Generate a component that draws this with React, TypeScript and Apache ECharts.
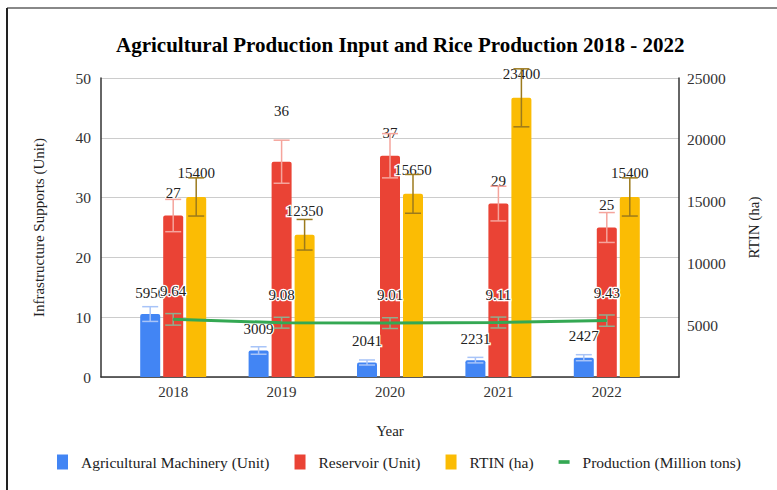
import React, { useEffect, useRef } from "react";
import * as echarts from "echarts";

const years = ["2018", "2019", "2020", "2021", "2022"];
const machinery = [5950, 3009, 2041, 2231, 2427];
const reservoir = [27, 36, 37, 29, 25];
const rtin = [15400, 12350, 15650, 23400, 15400];
const production = [9.64, 9.08, 9.01, 9.11, 9.43];

const leftMin = 0;
const leftMax = 50;
const leftInterval = 10;
const rightMin = 870;
const rightMax = 25000;
const errorPct = 0.1;

const FONT = "'Liberation Serif', 'Times New Roman', serif";
const BLUE = "#4285f4";
const RED = "#ea4335";
const YELLOW = "#fbbc04";
const GREEN = "#34a853";

function errorSeries(name: string, values: number[], yAxisIndex: number, offset: number, color: string) {
  return {
    type: "custom",
    name,
    xAxisIndex: 1,
    yAxisIndex,
    z: 4,
    silent: true,
    data: values.map((v, i) => [i, v]),
    renderItem: (params: any, api: any) => {
      const x = api.value(0);
      const v = api.value(1);
      const e = v * errorPct;
      const top = api.coord([x, v + e]);
      const bot = api.coord([x, v - e]);
      const cx = top[0] + offset;
      const hw = 8;
      const style = { stroke: color, lineWidth: 1.5 };
      return {
        type: "group",
        children: [
          { type: "line", shape: { x1: cx, y1: top[1], x2: cx, y2: bot[1] }, style },
          { type: "line", shape: { x1: cx - hw, y1: top[1], x2: cx + hw, y2: top[1] }, style },
          { type: "line", shape: { x1: cx - hw, y1: bot[1], x2: cx + hw, y2: bot[1] }, style },
        ],
      };
    },
  };
}

const barLabel = {
  show: true,
  position: "top",
  distance: 14,
  fontFamily: FONT,
  fontSize: 15,
  color: "#222",
  textBorderColor: "#fff",
  textBorderWidth: 2.5,
};

export default function App() {
  const ref = useRef<HTMLDivElement>(null);
  useEffect(() => {
    if (!ref.current) return;
    const chart = echarts.init(ref.current, undefined, { renderer: "svg" });
    const gridTop = 78;
    const gridBottom = 113;
    chart.setOption({
      animation: false,
      backgroundColor: "#fff",
      textStyle: { fontFamily: FONT },
      title: {
        text: "Agricultural Production Input and Rice Production 2018 - 2022",
        left: 116,
        top: 34,
        padding: 0,
        textStyle: { fontFamily: FONT, fontSize: 21, fontWeight: "bold", color: "#000" },
      },
      graphic: [
        { type: "line", shape: { x1: 7, y1: 8, x2: 777, y2: 8 }, style: { stroke: "#888", lineWidth: 2 } },
        { type: "line", shape: { x1: 7, y1: 8, x2: 7, y2: 490 }, style: { stroke: "#222", lineWidth: 2 } },
      ],
      legend: {
        bottom: 15,
        left: 52,
        itemGap: 25,
        itemWidth: 11,
        itemHeight: 15,
        textStyle: { fontFamily: FONT, fontSize: 15.5, color: "#222", padding: [0, 0, 0, 8] },
        data: [
          { name: "Agricultural Machinery (Unit)", icon: "rect" },
          { name: "Reservoir (Unit)", icon: "rect" },
          { name: "RTIN (ha)", icon: "rect" },
          { name: "Production (Million tons)", icon: "path://M0,0 L12,0 L12,4 L0,4 Z" },
        ],
      },
      grid: [
        { left: 101, right: 98, top: gridTop, bottom: gridBottom },
        { left: 119, right: 116, top: gridTop, bottom: gridBottom },
      ],
      xAxis: [
        {
          type: "category",
          gridIndex: 0,
          data: years,
          axisLine: { show: true, lineStyle: { color: "#333", width: 1.5 } },
          axisTick: { show: false },
          axisLabel: { show: false },
        },
        {
          type: "category",
          gridIndex: 1,
          data: years,
          axisLine: { show: false },
          axisTick: { show: false },
          axisLabel: { fontFamily: FONT, fontSize: 15, color: "#333", margin: 7 },
          name: "Year",
          nameLocation: "middle",
          nameGap: 46,
          nameTextStyle: { fontFamily: FONT, fontSize: 15, color: "#222" },
        },
      ],
      yAxis: [
        {
          type: "value",
          gridIndex: 0,
          position: "left",
          min: leftMin,
          max: leftMax,
          interval: leftInterval,
          axisLine: { show: true, lineStyle: { color: "#333", width: 1.5 } },
          axisTick: { show: false },
          splitLine: { show: true, lineStyle: { color: "#ccc", width: 1 } },
          axisLabel: { fontFamily: FONT, fontSize: 15.5, color: "#333", margin: 10 },
          name: "Infrastructure Supports (Unit)",
          nameLocation: "middle",
          nameRotate: 90,
          nameGap: 55,
          nameTextStyle: { fontFamily: FONT, fontSize: 15, color: "#222" },
        },
        {
          type: "value",
          gridIndex: 0,
          position: "right",
          min: rightMin,
          max: rightMax,
          splitNumber: 5,
          axisLine: { show: true, lineStyle: { color: "#333", width: 1.5 } },
          axisTick: { show: false },
          splitLine: { show: false },
          axisLabel: {
            fontFamily: FONT,
            fontSize: 15.5,
            color: "#333",
            margin: 8,
            showMinLabel: false,
            formatter: (v: number) => (v % 5000 === 0 ? String(v) : ""),
          },
          name: "RTIN (ha)",
          nameLocation: "middle",
          nameRotate: 90,
          nameGap: 67,
          nameTextStyle: { fontFamily: FONT, fontSize: 15, color: "#222" },
        },
        {
          type: "value",
          gridIndex: 1,
          min: leftMin,
          max: leftMax,
          interval: leftInterval,
          show: false,
          splitLine: { show: false },
        },
        {
          type: "value",
          gridIndex: 1,
          position: "right",
          min: rightMin,
          max: rightMax,
          show: false,
          splitLine: { show: false },
        },
      ],
      series: [
        {
          type: "bar",
          name: "Agricultural Machinery (Unit)",
          xAxisIndex: 1,
          yAxisIndex: 3,
          data: machinery,
          barWidth: 20,
          barGap: "15%",
          itemStyle: { color: BLUE, borderRadius: [2, 2, 0, 0] },
          label: barLabel,
          z: 2,
        },
        {
          type: "bar",
          name: "Reservoir (Unit)",
          xAxisIndex: 1,
          yAxisIndex: 2,
          data: reservoir.map((v, i) =>
            i === 1 ? { value: v, label: { distance: 43 } } : v
          ),
          barWidth: 20,
          barGap: "15%",
          itemStyle: { color: RED, borderRadius: [2, 2, 0, 0] },
          label: { ...barLabel, distance: 15 },
          z: 2,
        },
        {
          type: "bar",
          name: "RTIN (ha)",
          xAxisIndex: 1,
          yAxisIndex: 3,
          data: rtin,
          barWidth: 20,
          barGap: "15%",
          itemStyle: { color: YELLOW, borderRadius: [2, 2, 0, 0] },
          label: { ...barLabel, distance: 16 },
          z: 2,
        },
        {
          type: "line",
          name: "Production (Million tons)",
          xAxisIndex: 1,
          yAxisIndex: 2,
          data: production,
          symbol: "circle",
          symbolSize: 1,
          itemStyle: { color: GREEN },
          lineStyle: { color: GREEN, width: 3 },
          label: { ...barLabel, distance: 20 },
          z: 6,
        },
        errorSeries("err-m", machinery, 3, -23, "#a8c4f8"),
        errorSeries("err-r", reservoir, 2, 0, "#f5a49c"),
        errorSeries("err-t", rtin, 3, 23, "#9c7a1c"),
        errorSeries("err-p", production, 2, 0, "#8fae8f"),
      ],
    });
    return () => chart.dispose();
  }, []);
  return (
    <div
      ref={ref}
      style={{ position: "fixed", left: 0, top: 0, width: 777, height: 490, background: "#fff" }}
    />
  );
}
